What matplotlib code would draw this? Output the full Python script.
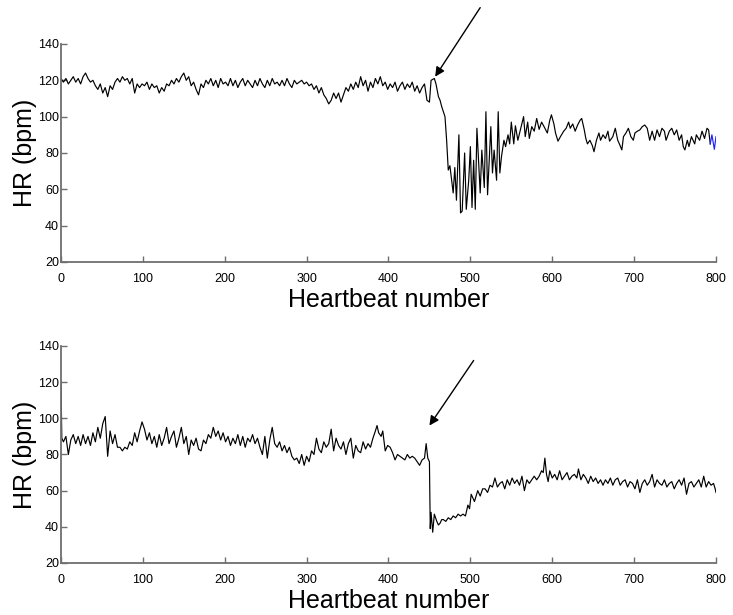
"""
plot.py
-------
Two heart-rate traces (HR vs heartbeat number), one above the other,
with an arrow marking the onset of the drop in each.
Saves out.png (733 x 615 px).
"""

import numpy as np
import matplotlib.pyplot as plt

# ── Data ──────────────────────────────────────────────────────────────────────
# upper trace, beats 0..447 every 3 beats
top_early_hr = [
    121, 119, 121, 118, 120, 122, 119, 121, 118, 122,
    124, 121, 119, 120, 117, 115, 118, 113, 116, 111,
    117, 115, 119, 121, 119, 122, 120, 121, 118, 121,
    113, 118, 116, 118, 117, 119, 115, 118, 116, 117,
    113, 116, 114, 118, 117, 120, 118, 121, 119, 122,
    124, 120, 122, 117, 119, 115, 112, 118, 116, 120,
    118, 121, 117, 120, 116, 121, 118, 119, 117, 121,
    117, 120, 116, 119, 121, 117, 120, 118, 116, 120,
    117, 121, 118, 116, 120, 117, 121, 118, 119, 117,
    120, 117, 121, 118, 116, 120, 118, 119, 120, 118,
    119, 117, 118, 115, 117, 113, 116, 112, 110, 107,
    109, 113, 110, 113, 108, 112, 116, 114, 118, 115,
    119, 116, 122, 117, 120, 114, 119, 116, 121, 118,
    122, 117, 119, 115, 118, 116, 119, 114, 117, 119,
    115, 118, 116, 119, 114, 117, 113, 116, 118, 109,
]
top_early_beats = np.arange(0, 450, 3)

# upper trace after the event
top_late_beats = [
    450, 452, 456, 458, 461, 463, 465, 469, 471, 473,
    475, 479, 481, 483, 486, 488, 490, 493, 495, 498,
    500, 502, 504, 506, 508, 512, 514, 517, 519, 521,
    525, 527, 529, 532, 534, 536, 538, 541, 543, 546,
    548, 550, 553, 555, 558, 562, 565, 567, 570, 572,
    575, 578, 581, 584, 587, 590, 594, 597, 599, 602,
    604, 607, 610, 614, 617, 620, 622, 625, 628, 631,
    634, 636, 639, 641, 643, 646, 649, 651, 654, 657,
    659, 662, 665, 668, 670, 674, 677, 680, 682, 685,
    687, 690, 693, 696, 699, 701, 704, 707, 710, 713,
    716, 719, 722, 725, 728, 731, 734, 737, 739, 743,
    746, 749, 752, 755, 758, 760, 762, 765, 767, 770,
    774, 776, 780, 783, 786, 789, 791, 793,
]
top_late_hr = [
    108, 120, 121, 118, 111, 109, 105.5, 100, 87, 70.6,
    73, 58, 72, 54, 90, 47, 48, 80, 49, 65,
    83.5, 50, 76, 49, 93.6, 58, 81.6, 61, 102.7, 57,
    94.5, 69, 81.6, 65, 102.7, 69, 78, 87, 83.5, 90,
    85, 97, 85, 95, 87, 94.5, 100, 89, 97, 88,
    94.5, 92, 99, 93, 97, 94.5, 91, 98, 101, 96,
    91, 86.5, 89, 92, 93.6, 97, 93.6, 96, 92, 95.4,
    98, 99, 93, 88, 85, 87, 84, 80.7, 87, 91,
    87, 90, 88, 92, 86.5, 89, 93.6, 87, 85, 81.7,
    89, 91, 93.6, 89, 87, 91, 92, 92.7, 94.5, 95.4,
    93.6, 87, 92, 87, 92.7, 89, 93.6, 92, 87, 92,
    93.6, 90, 92.7, 87, 90, 83.5, 81.7, 87, 83.5, 89,
    85, 90, 87, 92, 88, 93.6, 92.7, 85,
]

# last few beats of the upper trace are drawn in blue
top_tail_beats = [793, 795, 798, 800]
top_tail_hr = [85, 90, 82, 89]

# lower trace, beats 0, 1 then 3..285 every 3 beats
bot_early_hr = [
    120, 89,
    87, 90, 80, 88, 91, 86, 90, 85, 91,
    86, 90, 85, 92, 87, 95, 89, 97, 101, 79,
    93, 86, 91, 84, 84, 82, 84, 83, 87, 85,
    92, 87, 93, 98, 94, 88, 92, 86, 90, 84,
    91, 85, 89, 95, 86, 90, 93, 84, 89, 95,
    86, 90, 80, 88, 85, 89, 83, 82, 88, 86,
    91, 89, 95, 90, 93, 88, 92, 87, 90, 85,
    89, 86, 91, 85, 90, 84, 89, 87, 91, 86,
    89, 84, 80, 90, 78, 88, 95, 86, 84, 87,
    82, 85, 81, 84, 79, 77,
]
bot_early_beats = np.r_[0, 1, np.arange(3, 286, 3)]

bot_late_beats = [
    288, 291, 294, 297, 300, 303, 306, 309, 312, 315,
    318, 321, 324, 327, 330, 333, 336, 339, 342, 345,
    348, 351, 354, 357, 360, 363, 366, 369, 372, 375,
    378, 381, 384, 386, 388, 391, 393, 396, 399, 402,
    405, 408, 411, 414, 417, 420, 423, 426, 429, 432,
    435, 438, 441, 444, 446, 448, 450, 451, 452, 454,
    456, 459, 461, 463, 465, 467, 470, 473, 476, 479,
    482, 485, 488, 491, 494, 495, 497, 499, 501, 503,
    505, 507, 509, 512, 515, 518, 521, 524, 527, 530,
    533, 536, 539, 542, 545, 548, 551, 554, 557, 560,
    563, 566, 569, 572, 575, 578, 581, 584, 587, 589,
    591, 593, 595, 597, 600, 603, 606, 609, 612, 615,
    618, 621, 624, 627, 630, 632, 635, 638, 641, 644,
    647, 650, 653, 656, 659, 662, 665, 668, 671, 674,
    677, 680, 683, 686, 689, 692, 695, 698, 701, 704,
    707, 710, 713, 716, 719, 722, 725, 728, 731, 734,
    737, 740, 743, 746, 749, 752, 755, 758, 761, 764,
    767, 770, 773, 776, 779, 782, 785, 788, 791, 794,
    797, 799, 800,
]
bot_late_hr = [
    78, 75, 80, 74, 79, 76, 82, 80, 89, 83,
    81, 87, 84, 86, 94, 82, 89, 85, 83, 87,
    80, 86, 89, 78, 85, 82, 81, 87, 83, 86,
    84, 89, 93, 96, 92, 90, 93, 82, 85, 84,
    81, 77, 80, 79, 78, 77, 80, 78, 79, 78,
    76, 74, 77, 78, 86, 78, 76, 39, 48, 37,
    47, 43, 41, 42, 44, 44, 43, 45, 44, 46,
    45, 47, 46, 47, 46, 48, 52, 50, 58, 56,
    54, 57, 60, 57, 61, 61, 59, 63, 62, 67,
    62, 64, 65, 61, 66, 63, 67, 64, 66, 63,
    68, 60, 66, 64, 66, 68, 66, 68, 71, 70,
    78, 69, 65, 71, 67, 69, 66, 71, 66, 68,
    70, 66, 68, 69, 67, 72, 66, 69, 67, 64,
    68, 65, 67, 64, 66, 63, 66, 64, 67, 63,
    66, 67, 63, 65, 66, 62, 65, 64, 61, 66,
    59, 64, 66, 63, 65, 69, 62, 66, 64, 63,
    66, 62, 64, 65, 61, 64, 66, 63, 67, 58,
    64, 65, 62, 64, 66, 62, 68, 62, 65, 63,
    64, 61, 59,
]

# arrows: (tail, tip) in data coordinates
top_arrow = ((512, 160), (457, 122))
bot_arrow = ((504, 132), (450, 96))

X_TICKS = [0, 100, 200, 300, 400, 500, 600, 700, 800]
Y_TICKS = [20, 40, 60, 80, 100, 120, 140]

# ── Style ─────────────────────────────────────────────────────────────────────
plt.rcParams["font.family"] = ["Liberation Sans", "DejaVu Sans"]
SPINE = "#6e6e6e"
LW = 0.85

fig = plt.figure(figsize=(7.33, 6.15), dpi=100)
ax_top = fig.add_axes([0.0832, 0.574, 0.8936, 0.3545])
ax_bot = fig.add_axes([0.0832, 0.0846, 0.8936, 0.3528])


def style_axes(ax):
    ax.set_xlim(0, 800)
    ax.set_ylim(20, 140)
    ax.set_xticks(X_TICKS)
    ax.set_yticks(Y_TICKS)
    for side in ("top", "right"):
        ax.spines[side].set_visible(False)
    for side in ("left", "bottom"):
        ax.spines[side].set_color(SPINE)
        ax.spines[side].set_linewidth(1.3)
    ax.tick_params(axis="both", direction="in", length=4.5, width=1.0,
                   color=SPINE, labelsize=9)
    ax.tick_params(axis="x", pad=8)
    ax.tick_params(axis="y", pad=1.5)
    ax.set_xlabel("Heartbeat number", fontsize=18, labelpad=2)
    ax.set_ylabel("HR (bpm)", fontsize=18, labelpad=1)


def draw_arrow(ax, arrow):
    (x0, y0), (x1, y1) = arrow
    ax.annotate("", xy=(x1, y1), xytext=(x0, y0), annotation_clip=False,
                arrowprops=dict(arrowstyle="-|>", color="black", lw=1.0,
                                mutation_scale=14, shrinkA=0, shrinkB=0))


# ── Upper panel ───────────────────────────────────────────────────────────────
top_beats = np.concatenate([top_early_beats, top_late_beats])
top_hr = np.concatenate([top_early_hr, top_late_hr])
ax_top.plot(top_beats, top_hr, color="black", lw=LW)
ax_top.plot(top_tail_beats, top_tail_hr, color="#1f1fff", lw=LW)
style_axes(ax_top)
draw_arrow(ax_top, top_arrow)

# ── Lower panel ───────────────────────────────────────────────────────────────
bot_beats = np.concatenate([bot_early_beats, bot_late_beats])
bot_hr = np.concatenate([bot_early_hr, bot_late_hr])
ax_bot.plot(bot_beats, bot_hr, color="black", lw=LW)
style_axes(ax_bot)
draw_arrow(ax_bot, bot_arrow)

fig.savefig("out.png", dpi=100)
plt.close(fig)
